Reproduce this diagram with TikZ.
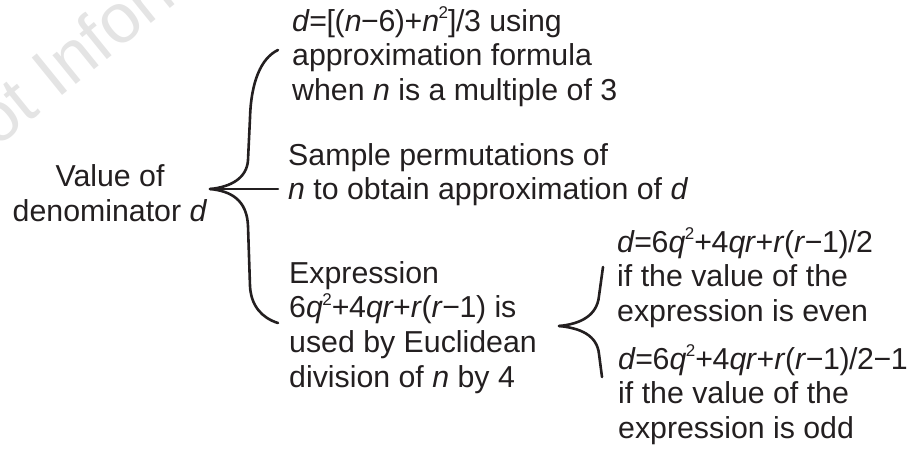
\documentclass[tikz,border=0pt]{standalone}
\usepackage{fontspec}
\setmainfont{Liberation Sans}
\newfontfamily\tight[LetterSpace=-1.4]{Liberation Sans}
\definecolor{tcol}{HTML}{231F20}
\definecolor{wcol}{HTML}{E4E4E4}
\newcommand{\sqd}{\raisebox{0.78ex}{\fontsize{17}{17}\selectfont 2}}

\begin{document}
\begin{tikzpicture}[x=1pt,y=-1pt,
  txt/.style={tcol,font=\fontsize{30.3}{34.8}\selectfont,inner sep=0pt,align=left,anchor=base west},
  brc/.style={tcol,line width=2.6pt,line cap=round}]
\useasboundingbox (0,0) rectangle (907,448);
% watermark
\node[wcol,font=\fontsize{70}{70}\selectfont,rotate=39,anchor=base west] (wm) at (-6,151) {ot Information};
% root and branches (anchored at last baseline)
\node[txt,align=center,anchor=base] (root) at (110,221) {Value of\\denominator \textit{d}};
\node[txt] (appr) at (292,100.6) {{\tight\textit{d}=[(\textit{n}−6)+\textit{n}\sqd]/3} using\\approximation formula\\when \textit{n} is a multiple of 3};
\node[txt] (samp) at (288,199.8) {Sample permutations of\\\textit{n} to obtain approximation of \textit{d}};
\node[txt] (expr) at (289,387.4) {Expression\\{\tight 6\textit{q}\sqd+4\textit{qr}+\textit{r}(\textit{r}−1)} is\\used by Euclidean\\division of \textit{n} by 4};
\node[txt] (even) at (617,321.6) {{\tight\textit{d}=6\textit{q}\sqd+4\textit{qr}+\textit{r}(\textit{r}−1)/2}\\if the value of the\\expression is even};
\node[txt] (odd) at (618,438.6) {{\tight\textit{d}=6\textit{q}\sqd+4\textit{qr}+\textit{r}(\textit{r}−1)/2−1}\\if the value of the\\expression is odd};
% brace ends
\coordinate (tip1) at (210,189);
\coordinate (top1) at (278,50);
\coordinate (mid1) at (278,189);
\coordinate (bot1) at (278,323);
\coordinate (tip2) at (559,326);
\coordinate (top2) at (603,267);
\coordinate (bot2) at (602,377);
% main brace
\draw[brc] (top1) .. controls (261,58) and (251,82) .. (250,118) -- (248,160)
  .. controls (247,178) and (231,187) .. (tip1);
\draw[brc] (tip1) .. controls (231,191) and (247,200) .. (248,226) -- (250,286)
  .. controls (251,306) and (262,318) .. (bot1);
\draw[brc] (tip1) -- (mid1);
% small brace
\draw[brc] (top2) -- (599,296) .. controls (597,316) and (580,324) .. (tip2);
\draw[brc] (tip2) .. controls (580,328) and (597,335) .. (599,354) -- (bot2);
\end{tikzpicture}
\end{document}
